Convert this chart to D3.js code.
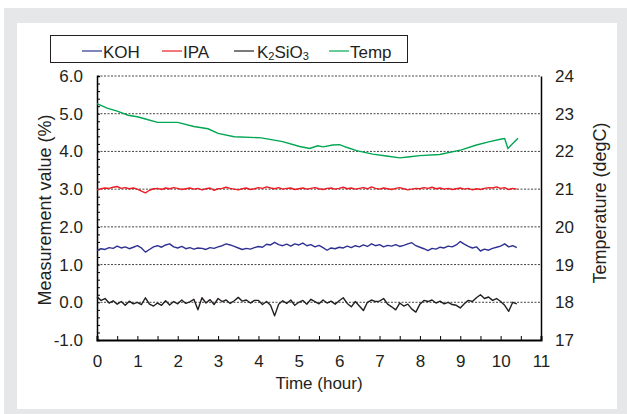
<!DOCTYPE html>
<html>
<head>
<meta charset="utf-8">
<script src="https://cdn.jsdelivr.net/npm/d3@7"></script>
<style>
  body { margin: 0; background: #fff; }
  svg text { font-family: "Liberation Sans", Arial, Helvetica, sans-serif; fill: #231f20; }
</style>
</head>
<body>
<div id="chart"></div>
<script>
// 时间轴：噪声系列每 0.1 小时一个读数
const hours = d3.range(105).map(i => +(i * 0.1).toFixed(1));

const kohValues = [
  1.38, 1.42, 1.40, 1.45, 1.43, 1.49, 1.44, 1.47, 1.42, 1.46,
  1.50, 1.44, 1.33, 1.40, 1.47, 1.50, 1.46, 1.52, 1.55, 1.47,
  1.44, 1.48, 1.42, 1.45, 1.41, 1.44, 1.43, 1.40, 1.45, 1.43,
  1.47, 1.50, 1.55, 1.52, 1.48, 1.44, 1.40, 1.43, 1.41, 1.45,
  1.48, 1.46, 1.54, 1.52, 1.59, 1.53, 1.50, 1.54, 1.49, 1.55,
  1.52, 1.57, 1.50, 1.53, 1.47, 1.51, 1.45, 1.38, 1.44, 1.42,
  1.46, 1.44, 1.49, 1.45, 1.50, 1.47, 1.52, 1.48, 1.55, 1.50,
  1.53, 1.47, 1.51, 1.49, 1.53, 1.48, 1.51, 1.55, 1.58, 1.50,
  1.46, 1.42, 1.37, 1.43, 1.41, 1.46, 1.44, 1.49, 1.47, 1.52,
  1.61, 1.54, 1.48, 1.44, 1.47, 1.36, 1.41, 1.38, 1.43, 1.46,
  1.49, 1.55, 1.47, 1.50, 1.45
];

const ipaValues = [
  2.98, 3.01, 3.03, 3.02, 3.05, 3.07, 3.02, 3.04, 3.01, 3.03,
  3.00, 2.95, 2.90, 2.97, 3.01, 3.02, 2.99, 3.03, 3.01, 3.04,
  3.02, 2.99, 3.01, 3.03, 3.00, 3.02, 2.98, 3.01, 3.03, 2.97,
  3.01, 3.02, 3.05, 3.02, 3.00, 2.98, 3.01, 3.03, 2.99, 3.01,
  3.04, 3.02, 3.06, 3.03, 3.01, 3.04, 3.00, 3.02, 3.03, 2.99,
  3.01, 3.03, 3.00, 3.02, 3.04, 3.01, 2.99, 3.02, 3.03, 3.00,
  3.02, 3.05, 3.01, 3.03, 3.00, 3.02, 3.04, 3.01, 3.06, 3.02,
  3.00, 3.03, 3.01, 2.99, 3.02, 3.04, 3.01, 2.98, 3.00, 3.02,
  3.01, 3.04, 3.02, 3.05, 3.01, 3.03, 3.00, 3.02, 2.99, 3.01,
  3.03, 3.00, 3.02, 2.98, 3.01, 2.99, 3.02, 3.04, 3.03, 3.06,
  3.02, 3.04, 2.99, 3.02, 3.00
];

const k2sio3Values = [
  0.15, 0.05, 0.10, -0.02, 0.04, -0.05, 0.02, -0.08, 0.03, -0.04,
  0.00, -0.06, 0.12, -0.05, -0.10, -0.02, -0.08, 0.04, -0.07, 0.02,
  -0.04, 0.06, -0.03, 0.01, 0.08, -0.20, 0.12, -0.02, 0.07, -0.06,
  0.10, 0.02, 0.06, -0.03, 0.04, 0.13, 0.03, 0.06, -0.02, 0.05,
  0.05, -0.06, 0.02, -0.08, -0.36, -0.05, 0.04, -0.03, 0.06, -0.08,
  0.00, 0.05, -0.05, 0.08, 0.02, -0.04, 0.06, -0.02, 0.03, -0.05,
  0.04, 0.12, -0.03, -0.12, 0.02, -0.10, -0.22, 0.00, 0.06, 0.02,
  0.03, 0.10, -0.05, -0.12, -0.20, -0.02, -0.10, -0.05, -0.18, -0.26,
  -0.05, 0.05, 0.02, 0.06, -0.02, 0.03, -0.04, 0.00, -0.06, -0.08,
  -0.15, -0.04, 0.05, 0.02, 0.12, 0.20, 0.10, 0.14, 0.05, 0.10,
  0.02, -0.08, -0.24, 0.00, -0.04
];

// 温度（右轴，degC）
const tempHours = [0, 0.25, 0.5, 0.77, 1.0, 1.2, 1.5, 2.0, 2.4, 2.75, 3.0, 3.4, 4.07, 4.6, 5.02, 5.27,
  5.47, 5.6, 5.84, 6.01, 6.18, 6.43, 6.83, 7.17, 7.5, 7.75, 8.0, 8.49, 9.03, 9.4, 9.73, 10.02, 10.1, 10.18, 10.43];
const tempValues = [23.27, 23.15, 23.07, 22.96, 22.92, 22.86, 22.77, 22.77, 22.66, 22.6, 22.48, 22.39, 22.36,
  22.26, 22.13, 22.08, 22.15, 22.12, 22.17, 22.18, 22.11, 22.02, 21.93, 21.88, 21.83, 21.86, 21.89, 21.92,
  22.04, 22.17, 22.26, 22.33, 22.34, 22.08, 22.35];

const leftTicks = [-1, 0, 1, 2, 3, 4, 5, 6];
const rightTicks = [17, 18, 19, 20, 21, 22, 23, 24];
const xTicks = d3.range(0, 12);

const width = 627, height = 414;
const margin = { top: 76, right: 86, bottom: 74, left: 97 };
const plotW = width - margin.left - margin.right;
const plotH = height - margin.top - margin.bottom;

const svg = d3.select('#chart').append('svg')
  .attr('width', width)
  .attr('height', height);

// 背景：灰框 + 白色面板
svg.append('rect').attr('x', 4).attr('y', 8).attr('width', 623).attr('height', 406).attr('fill', '#e6e7e8');
svg.append('rect').attr('x', 17).attr('y', 23).attr('width', 600).attr('height', 386).attr('fill', '#fff');

const g = svg.append('g').attr('transform', `translate(${margin.left},${margin.top})`);

const x = d3.scaleLinear().domain([0, 11]).range([0, plotW]);
const yL = d3.scaleLinear().domain([-1, 6]).range([plotH, 0]);
const yR = d3.scaleLinear().domain([17, 24]).range([plotH, 0]);

// 网格虚线
g.selectAll('.grid')
  .data(leftTicks.filter(v => v > -1))
  .enter().append('line')
  .attr('class', 'grid')
  .attr('x1', 0).attr('x2', plotW)
  .attr('y1', d => yL(d)).attr('y2', d => yL(d))
  .attr('stroke', '#444')
  .attr('stroke-width', 1)
  .attr('stroke-dasharray', '2,1.5');

// 坐标轴
const xAxis = g.append('g')
  .attr('transform', `translate(0,${plotH})`)
  .call(d3.axisBottom(x).tickValues(d3.range(0, 11.01, 0.5)).tickSize(-4).tickFormat(''));
xAxis.select('.domain').attr('stroke-width', 2);

g.append('g')
  .attr('transform', `translate(0,${plotH})`)
  .call(d3.axisBottom(x).tickValues(xTicks).tickSize(0).tickPadding(15).tickFormat(d3.format('d')))
  .call(a => a.select('.domain').remove())
  .selectAll('text').style('font-size', '17px');

const yAxisL = g.append('g')
  .call(d3.axisLeft(yL).tickValues(d3.range(-1, 6.01, 0.2)).tickSize(-3).tickFormat(''));
yAxisL.select('.domain').attr('stroke-width', 1.5);

// 用普通连字符显示负号
g.append('g')
  .call(d3.axisLeft(yL).tickValues(leftTicks).tickSize(0).tickPadding(14).tickFormat(d => d.toFixed(1)))
  .call(a => a.select('.domain').remove())
  .selectAll('text').style('font-size', '17px');

g.append('g')
  .attr('transform', `translate(${plotW},0)`)
  .call(d3.axisRight(yR).tickValues(rightTicks).tickSize(0).tickPadding(14).tickFormat(d3.format('d')))
  .call(a => a.select('.domain').attr('stroke-width', 1.5))
  .selectAll('text').style('font-size', '17px');

// 折线
const noisyLine = vals => d3.line()
  .x((d, i) => x(hours[i]))
  .y(d => yL(d))(vals);

const series = [
  { name: 'KOH', values: kohValues, color: '#2e3192' },
  { name: 'IPA', values: ipaValues, color: '#ed1c24' },
  { name: 'K2SiO3', values: k2sio3Values, color: '#231f20' }
];

series.forEach(s => {
  g.append('path')
    .attr('d', noisyLine(s.values))
    .attr('fill', 'none')
    .attr('stroke', s.color)
    .attr('stroke-width', 1.4)
    .attr('stroke-linejoin', 'round');
});

g.append('path')
  .datum(tempHours.map((h, i) => [h, tempValues[i]]))
  .attr('d', d3.line().x(d => x(d[0])).y(d => yR(d[1])))
  .attr('fill', 'none')
  .attr('stroke', '#00a651')
  .attr('stroke-width', 1.4);

// 轴标题
svg.append('text')
  .attr('x', margin.left + plotW / 2).attr('y', 389)
  .attr('text-anchor', 'middle')
  .style('font-size', '17px')
  .text('Time (hour)');

svg.append('text')
  .attr('transform', `translate(51,${margin.top + plotH / 2 + 2}) rotate(-90)`)
  .attr('text-anchor', 'middle')
  .style('font-size', '18px')
  .text('Measurement value (%)');

svg.append('text')
  .attr('transform', `translate(606,${margin.top + plotH / 2 - 5}) rotate(-90)`)
  .attr('text-anchor', 'middle')
  .style('font-size', '18px')
  .text('Temperature (degC)');

// 图例
const legend = svg.append('g');
legend.append('rect')
  .attr('x', 50.5).attr('y', 35.5).attr('width', 357).attr('height', 27)
  .attr('fill', '#fff').attr('stroke', '#231f20').attr('stroke-width', 1);

const legendItems = [
  { x: 82, color: '#2e3192', label: 'KOH' },
  { x: 162, color: '#ed1c24', label: 'IPA' },
  { x: 234, color: '#231f20', label: 'K2SiO3' },
  { x: 329, color: '#00a651', label: 'Temp' }
];

legendItems.forEach(d => {
  legend.append('line')
    .attr('x1', d.x).attr('x2', d.x + 20)
    .attr('y1', 51).attr('y2', 51)
    .attr('stroke', d.color).attr('stroke-width', 1.2);
  const t = legend.append('text')
    .attr('x', d.x + (d.label === 'K2SiO3' ? 23 : 21)).attr('y', 57.5)
    .style('font-size', '17px');
  if (d.label === 'K2SiO3') {
    t.append('tspan').text('K');
    t.append('tspan').attr('dy', 2).style('font-size', '11px').text('2');
    t.append('tspan').attr('dy', -2).text('SiO');
    t.append('tspan').attr('dy', 2).style('font-size', '11px').text('3');
  } else {
    t.text(d.label);
  }
});
</script>
</body>
</html>
